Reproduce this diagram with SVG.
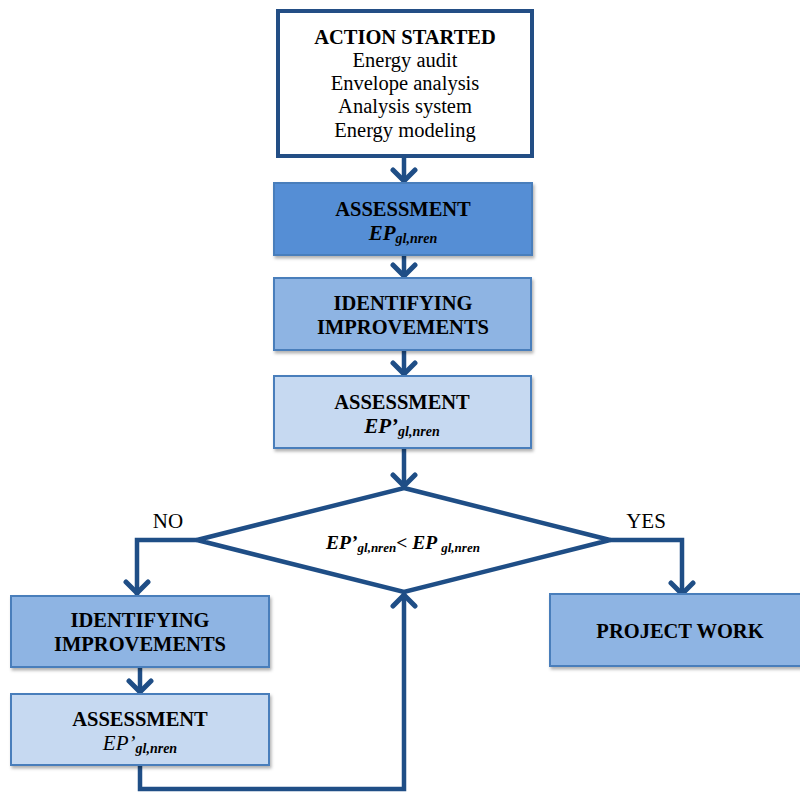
<svg xmlns="http://www.w3.org/2000/svg" width="800" height="793" viewBox="0 0 800 793">
<style>
text{font-family:"Liberation Serif","Times New Roman",serif;fill:#000;text-anchor:middle}
.b{font-weight:bold;font-size:20.5px}
.r{font-size:20.5px}
.bi{font-weight:bold;font-style:italic;font-size:21px}
.i{font-style:italic;font-size:21px}
.sub{font-weight:bold;font-style:italic;font-size:14px}
.box{stroke:#4A7EBB;stroke-width:2;filter:url(#sh)}
.c1{fill:#558ED5}
.c2{fill:#8EB4E3}
.c3{fill:#C6D9F1}
.ln{fill:none;stroke:#1F4E86;stroke-width:4.5;stroke-linejoin:miter}
.lbl{font-size:21px}
</style>
<defs>
<filter id="sh" x="-5%" y="-10%" width="115%" height="130%">
<feDropShadow dx="1.5" dy="2.5" stdDeviation="1.5" flood-color="#000" flood-opacity="0.3"/>
</filter>
<marker id="ah" markerUnits="userSpaceOnUse" viewBox="0 0 22 28" markerWidth="22" markerHeight="28" refX="18" refY="14" orient="auto">
<path d="M5,3 L16,14 L5,25" fill="none" stroke="#1F4E86" stroke-width="5" stroke-linecap="round"/>
</marker>
</defs>
<g id="connectors">
<line class="ln" x1="404" y1="156" x2="404" y2="183" marker-end="url(#ah)"/>
<line class="ln" x1="404" y1="255" x2="404" y2="278" marker-end="url(#ah)"/>
<line class="ln" x1="404" y1="350" x2="404" y2="376" marker-end="url(#ah)"/>
<line class="ln" x1="404" y1="448" x2="404" y2="488" marker-end="url(#ah)"/>
<polyline class="ln" points="197,540 137,540 137,595" marker-end="url(#ah)"/>
<polyline class="ln" points="610,540 682,540 682,596" marker-end="url(#ah)"/>
<line class="ln" x1="140" y1="667" x2="140" y2="694" marker-end="url(#ah)"/>
<polyline class="ln" points="140,765 140,789 404,789 404,593" marker-end="url(#ah)"/>
</g>
<g id="action-started">
<rect x="278" y="11" width="254" height="145" fill="#fff" stroke="#234E85" stroke-width="4"/>
<text x="405" y="44" class="b">ACTION STARTED</text>
<text x="405" y="67" class="r">Energy audit</text>
<text x="405" y="90" class="r">Envelope analysis</text>
<text x="405" y="113" class="r">Analysis system</text>
<text x="405" y="137" class="r">Energy modeling</text>
</g>
<g id="assessment-1">
<rect class="box c1" x="274" y="183" width="258" height="72"/>
<text x="403" y="216" class="b">ASSESSMENT</text>
<text x="403" y="240" class="bi">EP<tspan class="sub" dy="3">gl,nren</tspan></text>
</g>
<g id="identifying-1">
<rect class="box c2" x="274" y="278" width="257" height="72"/>
<text x="403" y="310" class="b">IDENTIFYING</text>
<text x="403" y="334" class="b">IMPROVEMENTS</text>
</g>
<g id="assessment-2">
<rect class="box c3" x="274" y="376" width="257" height="72"/>
<text x="402" y="409" class="b">ASSESSMENT</text>
<text x="402" y="433" class="bi">EP’<tspan class="sub" dy="3">gl,nren</tspan></text>
</g>
<g id="decision">
<polygon points="404,488 610,540 404,592 197,540" fill="#fff" stroke="#1F4E86" stroke-width="4.5"/>
<text x="403" y="549" class="bi" style="font-size:19.5px">EP’<tspan class="sub" style="font-size:13px" dy="3">gl,nren</tspan><tspan dy="-3">&lt; EP </tspan><tspan class="sub" style="font-size:13px" dy="3">gl,nren</tspan></text>
</g>
<g id="labels">
<text x="168" y="528" class="lbl">NO</text>
<text x="646" y="528" class="lbl">YES</text>
</g>
<g id="identifying-2">
<rect class="box c2" x="11" y="596" width="258" height="71"/>
<text x="140" y="627" class="b">IDENTIFYING</text>
<text x="140" y="651" class="b">IMPROVEMENTS</text>
</g>
<g id="assessment-3">
<rect class="box c3" x="11" y="694" width="258" height="71"/>
<text x="140" y="726" class="b">ASSESSMENT</text>
<text x="140" y="750" class="i">EP’<tspan class="sub" dy="3">gl,nren</tspan></text>
</g>
<g id="project-work">
<rect class="box c2" x="550" y="594" width="262" height="72"/>
<text x="680" y="638" class="b">PROJECT WORK</text>
</g>
</svg>
